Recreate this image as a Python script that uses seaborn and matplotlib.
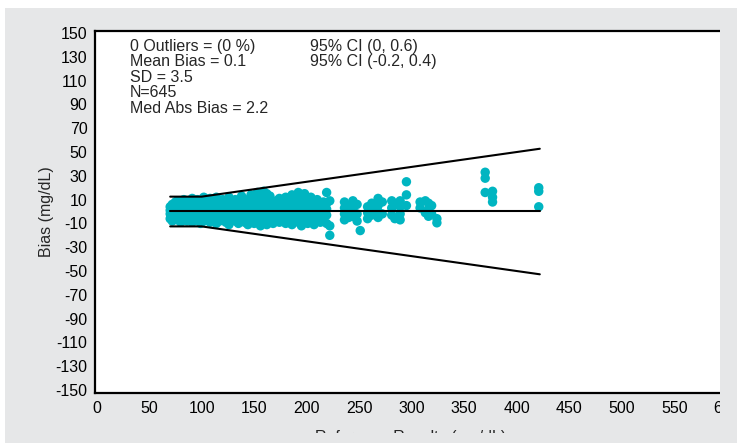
import numpy as np
import pandas as pd
import matplotlib
matplotlib.use("Agg")
import matplotlib.pyplot as plt
from matplotlib.patches import Rectangle
from matplotlib.ticker import FixedLocator
import seaborn as sns

# ---------------- data ----------------
# dense cloud: reference value -> list of bias values
cloud = {
    70: [-6, -2, 1, 4], 72: [-8, -3, 3, 6], 75: [-5, 0, 5, 8], 77: [-7, -1, 2, 9],
    80: [-9, -4, 0, 4, 7], 83: [-6, -2, 3, 10], 86: [-8, -3, 1, 6], 88: [-5, 0, 4, 8],
    91: [-9, -4, 2, 7, 11], 94: [-7, -1, 3, 9], 96: [-6, -2, 5, 10], 99: [-10, -4, 0, 4, 8],
    102: [-8, -3, 2, 6, 12], 105: [-6, -1, 3, 9], 108: [-9, -4, 1, 5, 11], 111: [-7, -2, 4, 8],
    114: [-10, -5, 0, 6, 12], 117: [-8, -3, 2, 7], 120: [-6, -1, 4, 10], 123: [-9, -4, 1, 5, 9],
    126: [-11, -6, -2, 3, 8, 12], 129: [-7, -3, 2, 6], 132: [-8, -2, 4, 10], 135: [-10, -5, 0, 5, 9],
    138: [-7, -3, 3, 8, 13], 141: [-9, -4, 1, 6], 144: [-11, -6, -1, 4, 10], 147: [-8, -2, 3, 8, 14],
    150: [-10, -5, 0, 5, 11], 153: [-7, -3, 2, 7, 16], 156: [-12, -6, -1, 4, 9, 13],
    159: [-9, -4, 1, 6, 12, 17], 162: [-11, -5, 0, 5, 10, 15], 165: [-8, -3, 2, 8, 13],
    168: [-10, -4, 1, 6], 171: [-7, -2, 3, 9], 174: [-9, -5, 0, 4, 11], 177: [-6, -1, 5, 8],
    180: [-10, -4, 2, 7, 12], 183: [-8, -3, 1, 6], 186: [-11, -6, 0, 4, 10, 14], 189: [-7, -2, 3, 8],
    192: [-9, -4, 1, 6, 13, 16], 195: [-12, -6, -1, 5, 10], 198: [-8, -3, 2, 7, 15],
    201: [-10, -5, 0, 4, 9], 204: [-7, -2, 3, 8, 12], 207: [-11, -4, 1, 6], 210: [-8, -3, 2, 10],
    213: [-9, -5, 0, 5], 216: [-6, -1, 4, 8], 219: [-10, -3, 2, 7, 16], 222: [-12, -20, 9],
    236: [8, 3, -2, -7], 240: [5, 0, -5], 244: [9, 1, -4], 248: [6, -2, -8], 251: [-16],
    258: [4, -1, -6], 262: [7, 2, -3], 268: [11, 5, 0, -5], 272: [8, -2], 281: [9, 3, -3],
    284: [6, -6], 289: [9, 4, -2, -7], 295: [25, 14, 5], 308: [8, 3], 313: [9, -1],
    316: [7, 2, -4], 319: [5, -2], 324: [-6, -9.5], 370: [33, 28, 16], 377: [17, 12, 8],
    421: [20, 17, 4],
}
ref_values = [x for x, bl in cloud.items() for _ in bl]
bias_values = [b for bl in cloud.values() for b in bl]

limit_x = [70, 100, 422]
upper_limit = [12.5, 12.5, 52.75]
lower_limit = [-12.5, -12.5, -52.75]
mean_x = [70, 422]
mean_bias = [0.1, 0.1]

stats_left = ["0 Outliers = (0 %)", "Mean Bias = 0.1", "SD = 3.5", "N=645", "Med Abs Bias = 2.2"]
stats_right = ["95% CI (0, 0.6)", "95% CI (-0.2, 0.4)"]

x_major = list(range(0, 601, 50))
y_major = list(range(-150, 151, 20))

# ---------------- figure ----------------
sns.set_style("white")
plt.rcParams["font.family"] = ["Liberation Sans", "DejaVu Sans"]
W, H = 737, 443
fig = plt.figure(figsize=(W / 100, H / 100), dpi=100, facecolor="white")
GRAY = "#e6e7e8"
fig.patches.append(Rectangle((5 / W, 0), 1 - 5 / W, 1 - 8 / H, transform=fig.transFigure,
                             facecolor=GRAY, edgecolor="none", zorder=-10))

left_px, right_px = 95.1, 726.7
top_px, bot_px = 31, 393
ax = fig.add_axes([left_px / W, 1 - bot_px / H, (right_px - left_px) / W, (bot_px - top_px) / H])
ax.set_facecolor("white")

df = pd.DataFrame({"ref": ref_values, "bias": bias_values})
sns.scatterplot(data=df, x="ref", y="bias", color="#00b5c1", s=46, edgecolor="none",
                linewidth=0, ax=ax, zorder=2, legend=False)
lim = pd.DataFrame({"x": limit_x, "up": upper_limit, "lo": lower_limit})
sns.lineplot(data=lim, x="x", y="up", color="black", lw=1.5, ax=ax, zorder=3, estimator=None, sort=False)
sns.lineplot(data=lim, x="x", y="lo", color="black", lw=1.5, ax=ax, zorder=3, estimator=None, sort=False)
sns.lineplot(x=mean_x, y=mean_bias, color="black", lw=1.5, ax=ax, zorder=3, estimator=None, sort=False)

ax.set_xlim(-1.5, 600)
ax.set_ylim(-152.5, 151.7)
ax.xaxis.set_major_locator(FixedLocator(x_major))
ax.xaxis.set_minor_locator(FixedLocator(list(range(0, 601, 10))))
ax.yaxis.set_major_locator(FixedLocator(y_major))
ax.yaxis.set_minor_locator(FixedLocator(list(range(-150, 151, 4))))
ax.set_xticklabels([str(v) for v in x_major])
ax.set_yticklabels([str(v) for v in y_major])
ax.tick_params(axis="both", which="major", direction="out", length=4.5, width=1.2,
               labelsize=11.5, colors="black", pad=1)
ax.tick_params(axis="both", which="minor", direction="out", length=3, width=1.0, colors="black")
ax.tick_params(axis="x", which="major", pad=1.5)

for s in ["top", "left", "bottom"]:
    ax.spines[s].set_visible(True)
    ax.spines[s].set_color("black")
    ax.spines[s].set_linewidth(1.6)
ax.spines["right"].set_visible(False)

ax.set_xlabel("Reference Results (mg/dL)", fontsize=11.5, labelpad=9.5)
ax.set_ylabel("Bias (mg/dL)", fontsize=11.5, labelpad=1)

for i, t in enumerate(stats_left):
    ax.text(31.5, 145.0 - 13.0 * i, t, fontsize=11.5, va="top", ha="left")
for i, t in enumerate(stats_right):
    ax.text(203, 145.0 - 13.0 * i, t, fontsize=11.5, va="top", ha="left")

# crop-style covers (right strip and bottom strip), as in the reference image
fig.patches.append(Rectangle((720 / W, 0), (W - 720) / W, 1 - 8 / H, transform=fig.transFigure,
                             facecolor=GRAY, edgecolor="none", zorder=10))
fig.patches.append(Rectangle((5 / W, 0), 1 - 5 / W, (H - 433) / H, transform=fig.transFigure,
                             facecolor=GRAY, edgecolor="none", zorder=10))

fig.savefig("out.png", dpi=100, facecolor="white")
